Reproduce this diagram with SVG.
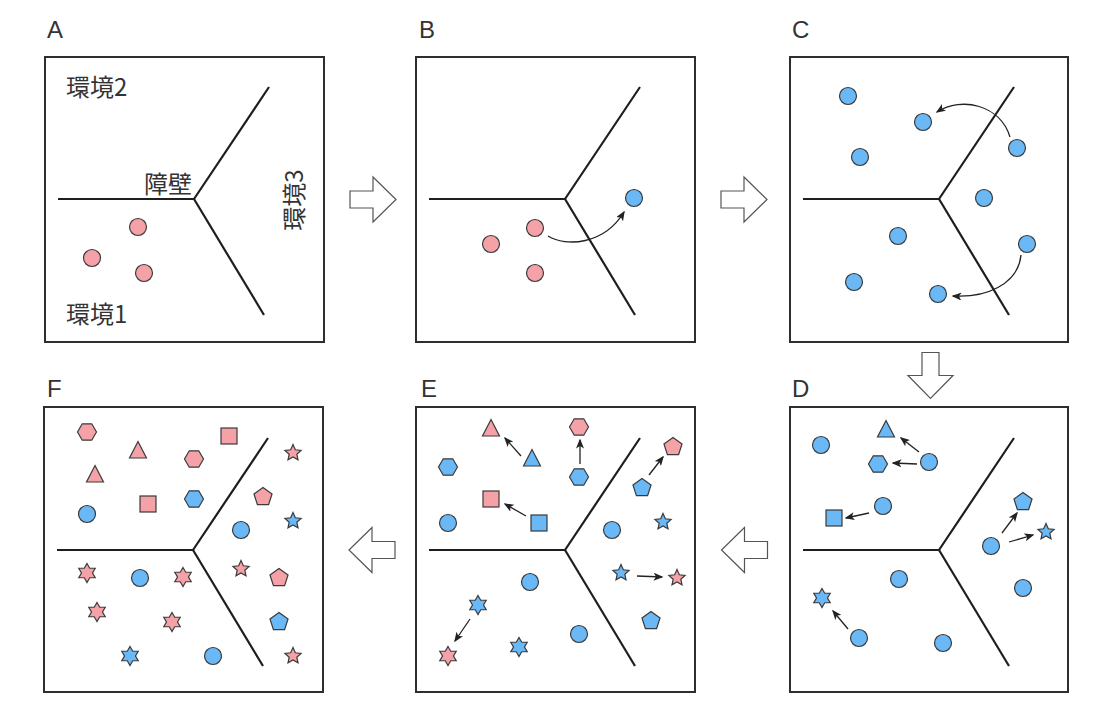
<svg xmlns="http://www.w3.org/2000/svg" width="1119" height="711" viewBox="0 0 1119 711">
<style>
.bg{fill:#ffffff}
.box{fill:none;stroke:#2e2e2e;stroke-width:2}
.wall{fill:none;stroke:#1e1e1e;stroke-width:2.2;stroke-linejoin:miter}
.p{fill:#f4a2a8;stroke:#3a3a3a;stroke-width:1.2}
.b{fill:#6ab8f6;stroke:#3a3a3a;stroke-width:1.2}
.lbl{font-family:"Liberation Sans","Noto Sans",sans-serif;font-size:24px;fill:#333}
.jp{font-family:"Noto Sans CJK JP","Noto Sans CJK SC",sans-serif;font-size:24px;fill:#333}
.arr{fill:none;stroke:#222;stroke-width:1.3;marker-end:url(#ah)}
.blk{fill:#fff;stroke:#555;stroke-width:1.2;stroke-linejoin:miter}
</style>
<defs>
<marker id="ah" markerUnits="userSpaceOnUse" markerWidth="10" markerHeight="8" refX="8.5" refY="4" orient="auto">
<path d="M0,0 L10,4 L0,8 L2.5,4 Z" fill="#222"/>
</marker>
<g id="wl"><polyline points="13,142 149,142 224,30"/><polyline points="149,142 219,258"/></g>
<circle id="cir" r="8.5"/>
<polygon id="tri" points="0,-9.5 8.5,7 -8.5,7"/>
<rect id="sq" x="-8" y="-8" width="16" height="16"/>
<polygon id="hex" points="9.5,0 4.75,8.2 -4.75,8.2 -9.5,0 -4.75,-8.2 4.75,-8.2"/>
<polygon id="pen" points="0,-9.5 9.03,-2.94 5.58,7.69 -5.58,7.69 -9.03,-2.94"/>
<polygon id="st5" points="0,-8.5 2.35,-3.24 8.08,-2.63 3.8,1.24 5,6.88 0,4 -5,6.88 -3.8,1.24 -8.08,-2.63 -2.35,-3.24"/>
<polygon id="st6" points="0,-9.5 2.75,-4.76 8.23,-4.75 5.5,0 8.23,4.75 2.75,4.76 0,9.5 -2.75,4.76 -8.23,4.75 -5.5,0 -8.23,-4.75 -2.75,-4.76"/>
<polygon id="barrow" points="-23,-8.5 0,-8.5 0,-22.5 23,0 0,22.5 0,8.5 -23,8.5"/>
</defs>
<rect class="bg" x="0" y="0" width="1119" height="711"/>

<g id="panelA">
<text class="lbl" x="47" y="38">A</text>
<rect class="box" x="45" y="57" width="279" height="285"/>
<use href="#wl" class="wall" transform="translate(45,57)"/>
<text class="jp" x="66" y="96">環境2</text>
<text class="jp" x="144" y="193">障壁</text>
<text class="jp" x="66" y="323">環境1</text>
<text class="jp" text-anchor="middle" transform="translate(295,200) rotate(-90)" y="8">環境3</text>
<use href="#cir" class="p" x="138" y="227"/>
<use href="#cir" class="p" x="92" y="258"/>
<use href="#cir" class="p" x="144" y="273"/>
</g>

<g id="panelB">
<text class="lbl" x="419" y="38">B</text>
<rect class="box" x="416" y="57" width="279" height="285"/>
<use href="#wl" class="wall" transform="translate(416,57)"/>
<use href="#cir" class="p" x="535" y="228"/>
<use href="#cir" class="p" x="491" y="244"/>
<use href="#cir" class="p" x="535" y="273"/>
<use href="#cir" class="b" x="634" y="198"/>
</g>

<g id="panelC">
<text class="lbl" x="792" y="38">C</text>
<rect class="box" x="790" y="57" width="278" height="285"/>
<use href="#wl" class="wall" transform="translate(790,57)"/>
<use href="#cir" class="b" x="848" y="96"/>
<use href="#cir" class="b" x="923" y="122"/>
<use href="#cir" class="b" x="860" y="157"/>
<use href="#cir" class="b" x="1017" y="148"/>
<use href="#cir" class="b" x="984" y="198"/>
<use href="#cir" class="b" x="898" y="236"/>
<use href="#cir" class="b" x="1027" y="244"/>
<use href="#cir" class="b" x="854" y="282"/>
<use href="#cir" class="b" x="938" y="294"/>
</g>

<g id="panelD">
<text class="lbl" x="792" y="397">D</text>
<rect class="box" x="790" y="407" width="278" height="285"/>
<use href="#wl" class="wall" transform="translate(790,408)"/>
<use href="#cir" class="b" x="821" y="445"/>
<use href="#tri" class="b" x="886" y="430"/>
<use href="#hex" class="b" x="878" y="464"/>
<use href="#cir" class="b" x="929" y="462"/>
<use href="#cir" class="b" x="883" y="506"/>
<use href="#sq" class="b" x="834" y="518"/>
<use href="#pen" class="b" x="1023" y="502"/>
<use href="#st5" class="b" x="1046" y="532"/>
<use href="#cir" class="b" x="991" y="546"/>
<use href="#cir" class="b" x="1023" y="588"/>
<use href="#cir" class="b" x="899" y="579"/>
<use href="#st6" class="b" x="822" y="598"/>
<use href="#cir" class="b" x="859" y="638"/>
<use href="#cir" class="b" x="943" y="643"/>
</g>

<g id="panelE">
<text class="lbl" x="421" y="397">E</text>
<rect class="box" x="416" y="407" width="279" height="285"/>
<use href="#wl" class="wall" transform="translate(416,408)"/>
<use href="#tri" class="p" x="491" y="429"/>
<use href="#tri" class="b" x="532" y="459"/>
<use href="#hex" class="p" x="579" y="427"/>
<use href="#hex" class="b" x="579" y="477"/>
<use href="#hex" class="b" x="448" y="467"/>
<use href="#sq" class="p" x="491" y="499"/>
<use href="#sq" class="b" x="539" y="523"/>
<use href="#cir" class="b" x="448" y="523"/>
<use href="#pen" class="p" x="673" y="447"/>
<use href="#pen" class="b" x="642" y="488"/>
<use href="#st5" class="b" x="663" y="522"/>
<use href="#cir" class="b" x="612" y="530"/>
<use href="#st5" class="b" x="621" y="573"/>
<use href="#st5" class="p" x="677" y="578"/>
<use href="#cir" class="b" x="530" y="582"/>
<use href="#st6" class="b" x="478" y="605"/>
<use href="#st6" class="p" x="448" y="656"/>
<use href="#st6" class="b" x="519" y="647"/>
<use href="#cir" class="b" x="579" y="634"/>
<use href="#pen" class="b" x="651" y="621"/>
</g>

<g id="panelF">
<text class="lbl" x="47" y="397">F</text>
<rect class="box" x="44" y="407" width="279" height="285"/>
<use href="#wl" class="wall" transform="translate(44,408)"/>
<use href="#hex" class="p" x="87" y="432"/>
<use href="#tri" class="p" x="138" y="451"/>
<use href="#sq" class="p" x="229" y="436"/>
<use href="#hex" class="p" x="194" y="459"/>
<use href="#st5" class="p" x="293" y="453"/>
<use href="#tri" class="p" x="95" y="475"/>
<use href="#sq" class="p" x="148" y="504"/>
<use href="#hex" class="b" x="194" y="499"/>
<use href="#pen" class="p" x="263" y="497"/>
<use href="#cir" class="b" x="87" y="514"/>
<use href="#st5" class="b" x="293" y="521"/>
<use href="#cir" class="b" x="241" y="530"/>
<use href="#st6" class="p" x="87" y="573"/>
<use href="#cir" class="b" x="140" y="578"/>
<use href="#st6" class="p" x="183" y="577"/>
<use href="#st5" class="p" x="241" y="569"/>
<use href="#pen" class="p" x="279" y="578"/>
<use href="#st6" class="p" x="97" y="612"/>
<use href="#st6" class="p" x="172" y="622"/>
<use href="#pen" class="b" x="279" y="622"/>
<use href="#st6" class="b" x="130" y="656"/>
<use href="#cir" class="b" x="213" y="656"/>
<use href="#st5" class="p" x="293" y="656"/>
</g>

<g id="connectors">
<use href="#barrow" class="blk" transform="translate(373,199.5)"/>
<use href="#barrow" class="blk" transform="translate(744,199.5)"/>
<use href="#barrow" class="blk" transform="translate(930.5,375.5) rotate(90)"/>
<use href="#barrow" class="blk" transform="translate(744.5,550) rotate(180)"/>
<use href="#barrow" class="blk" transform="translate(372,550) rotate(180)"/>
<path class="arr" d="M548,236 C566,247 604,245 624,212"/>
<path class="arr" d="M1010,137 C1000,105 962,96 937,112"/>
<path class="arr" d="M1021,255 C1018,285 985,298 953,296"/>
<line class="arr" x1="919" y1="452" x2="901" y2="438"/>
<line class="arr" x1="917" y1="464" x2="893" y2="463"/>
<line class="arr" x1="869" y1="513" x2="846" y2="518"/>
<line class="arr" x1="1002" y1="533" x2="1017" y2="513"/>
<line class="arr" x1="1009" y1="542" x2="1033" y2="535"/>
<line class="arr" x1="848" y1="629" x2="833" y2="611"/>
<line class="arr" x1="521" y1="456" x2="505" y2="438"/>
<line class="arr" x1="580" y1="464" x2="580" y2="440"/>
<line class="arr" x1="526" y1="516" x2="505" y2="504"/>
<line class="arr" x1="649" y1="475" x2="663" y2="457"/>
<line class="arr" x1="637" y1="576" x2="662" y2="577"/>
<line class="arr" x1="470" y1="619" x2="455" y2="641"/>
</g>
</svg>
